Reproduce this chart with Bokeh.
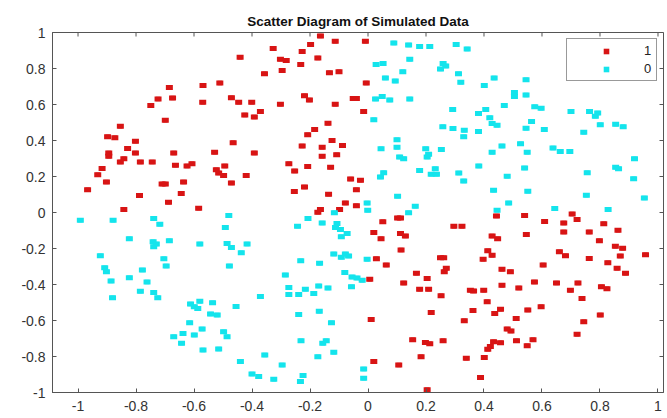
import math
from bokeh.plotting import figure
from bokeh.models import (Range1d, LinearAxis, FixedTicker, Legend, LegendItem,
                          ColumnDataSource)
from bokeh.embed import file_html
from bokeh.resources import INLINE

# ---------------- data ----------------
class1_x = [-0.685, -0.569, -0.724, -0.674, -0.749, -0.570, -0.699, -0.854, -0.898, -0.873,
            -0.802, -0.829, -0.164, -0.113, -0.009, -0.198, -0.327, -0.227, -0.441, -0.302,
            -0.282, -0.173, -0.232, -0.296, -0.357, -0.133, -0.100, -0.006, -0.511, -0.471,
            -0.446, -0.401, -0.302, -0.219, -0.202, -0.113, -0.051, -0.040, -0.015, -0.425,
            -0.392, -0.371, -0.138, -0.184, -0.208, -0.465, -0.124, -0.088, -0.227, -0.158,
            -0.894, -0.894, -0.802, -0.670, -0.842, -0.854, -0.785, -0.744, -0.664, -0.624,
            -0.607, -0.917, -0.932, -0.902, -0.710, -0.699, -0.636, -0.967, -0.788, -0.644,
            -0.688, -0.842, -0.584, -0.529, -0.392, -0.158, -0.108, -0.494, -0.523, -0.515,
            -0.498, -0.420, -0.471, -0.273, -0.253, -0.208, -0.129, -0.060, -0.026, -0.254,
            -0.219, -0.040, -0.136, -0.078, -0.040, -0.164, -0.173, -0.098, 0.443, 0.051,
            0.102, 0.112, 0.296, 0.324, 0.020, 0.045, 0.112, 0.129, 0.428, 0.447,
            0.114, 0.413, 0.428, 0.029, 0.397, 0.250, 0.261, 0.063, 0.270, 0.263,
            0.167, 0.462, 0.491, 0.540, 0.704, 0.721, 0.609, 0.675, 0.813, 0.546,
            0.675, 0.763, 0.862, 0.798, 0.853, 0.878, 0.660, 0.681, 0.870, 0.763,
            0.957, 0.604, 0.827, 0.859, 0.888, 0.006, 0.204, 0.123, 0.178, 0.209,
            0.252, 0.353, 0.364, 0.399, 0.462, 0.520, 0.411, 0.457, 0.437, 0.362,
            0.218, 0.011, 0.332, 0.511, 0.480, 0.493, 0.154, 0.198, 0.213, 0.259,
            0.433, 0.457, 0.422, 0.413, 0.512, 0.183, 0.339, 0.401, 0.020, 0.106,
            0.388, 0.204, 0.574, 0.650, 0.698, 0.724, 0.738, 0.805, 0.824, 0.597,
            0.551, 0.801, 0.744, 0.721, 0.569, 0.549]
class1_y = [0.695, 0.706, 0.631, 0.636, 0.595, 0.612, 0.512, 0.479, 0.421, 0.415,
            0.396, 0.356, 0.981, 0.952, 0.952, 0.933, 0.911, 0.894, 0.863, 0.852,
            0.845, 0.858, 0.822, 0.789, 0.771, 0.776, 0.782, 0.719, 0.719, 0.638,
            0.612, 0.612, 0.601, 0.649, 0.625, 0.601, 0.633, 0.633, 0.561, 0.542,
            0.531, 0.561, 0.496, 0.461, 0.432, 0.387, 0.400, 0.372, 0.369, 0.363,
            0.330, 0.312, 0.330, 0.330, 0.299, 0.280, 0.280, 0.280, 0.262, 0.258,
            0.271, 0.244, 0.210, 0.169, 0.158, 0.158, 0.169, 0.127, 0.094, 0.105,
            0.057, 0.017, 0.024, 0.335, 0.330, 0.313, 0.321, 0.258, 0.238, 0.219,
            0.206, 0.205, 0.164, 0.271, 0.230, 0.256, 0.252, 0.186, 0.179, 0.116,
            0.142, 0.127, 0.101, 0.053, 0.037, 0.017, 0.002, 0.017, -0.019, -0.052,
            -0.030, -0.030, -0.076, -0.076, -0.111, -0.146, -0.116, -0.131, -0.131, -0.146,
            -0.209, -0.213, -0.238, -0.257, -0.260, -0.251, -0.251, -0.292, -0.310, -0.329,
            -0.338, -0.315, -0.329, -0.017, -0.009, -0.039, -0.050, -0.058, -0.063, -0.122,
            -0.109, -0.109, -0.098, -0.157, -0.187, -0.198, -0.218, -0.240, -0.242, -0.255,
            -0.235, -0.292, -0.279, -0.310, -0.338, -0.371, -0.367, -0.391, -0.426, -0.426,
            -0.463, -0.432, -0.436, -0.432, -0.404, -0.419, -0.496, -0.537, -0.561, -0.545,
            -0.556, -0.594, -0.602, -0.589, -0.647, -0.659, -0.707, -0.722, -0.729, -0.712,
            -0.718, -0.723, -0.745, -0.760, -0.712, -0.801, -0.810, -0.806, -0.828, -0.847,
            -0.917, -0.985, -0.386, -0.391, -0.432, -0.391, -0.478, -0.413, -0.423, -0.524,
            -0.542, -0.570, -0.607, -0.677, -0.707, -0.740]

class0_x = [0.089, 0.140, 0.178, 0.213, 0.304, 0.342, 0.144, 0.028, 0.052, 0.259,
            0.268, 0.250, 0.120, 0.312, 0.060, 0.094, 0.320, 0.435, 0.401, 0.505,
            0.505, 0.026, 0.049, 0.075, 0.144, 0.470, 0.292, 0.406, 0.381, 0.420,
            0.020, 0.428, 0.445, 0.258, 0.293, 0.332, 0.330, 0.381, 0.100, 0.100,
            0.045, 0.199, 0.253, 0.462, 0.526, 0.545, 0.545, 0.575, 0.597, 0.700,
            0.764, 0.792, 0.784, 0.564, 0.801, 0.854, 0.880, 0.545, 0.608, 0.744,
            0.638, 0.663, 0.696, 0.549, 0.109, 0.123, 0.209, 0.204, 0.428, 0.382,
            0.178, 0.232, 0.218, 0.236, 0.313, 0.330, 0.054, 0.043, 0.480, 0.433,
            0.102, -0.003, -0.001, 0.163, 0.140, 0.485, 0.445, -0.003, 0.919, 0.540,
            0.854, 0.864, 0.756, 0.916, 0.551, 0.753, 0.953, 0.644, 0.828, -0.992,
            -0.879, -0.739, -0.718, -0.823, -0.741, -0.730, -0.739, -0.685, -0.580, -0.923,
            -0.704, -0.696, -0.908, -0.902, -0.778, -0.886, -0.823, -0.762, -0.785, -0.739,
            -0.725, -0.881, -0.612, -0.599, -0.580, -0.587, -0.615, -0.572, -0.638, -0.599,
            -0.670, -0.643, -0.569, -0.480, -0.492, -0.207, -0.158, -0.116, -0.243, -0.107,
            -0.112, -0.095, -0.072, -0.092, -0.486, -0.471, -0.417, -0.437, -0.478, -0.232,
            -0.167, -0.118, -0.092, -0.067, -0.078, -0.080, -0.285, -0.055, -0.038, -0.020,
            -0.057, -0.273, -0.273, -0.239, -0.216, -0.187, -0.170, -0.138, -0.371, -0.536,
            -0.455, -0.543, -0.520, -0.239, -0.168, -0.126, -0.498, -0.486, -0.231, -0.156,
            -0.144, -0.515, -0.118, -0.356, -0.173, -0.440, -0.296, -0.400, -0.377, -0.325,
            -0.224, -0.233, -0.015, -0.015]
class0_y = [0.941, 0.930, 0.922, 0.922, 0.933, 0.909, 0.852, 0.822, 0.828, 0.828,
            0.814, 0.797, 0.782, 0.771, 0.747, 0.730, 0.723, 0.747, 0.706, 0.666,
            0.644, 0.631, 0.644, 0.625, 0.631, 0.594, 0.572, 0.572, 0.550, 0.527,
            0.515, 0.494, 0.485, 0.476, 0.467, 0.457, 0.421, 0.450, 0.404, 0.363,
            0.354, 0.354, 0.350, 0.369, 0.382, 0.738, 0.653, 0.587, 0.579, 0.561,
            0.561, 0.553, 0.535, 0.505, 0.487, 0.490, 0.476, 0.468, 0.461, 0.446,
            0.358, 0.339, 0.339, 0.335, 0.308, 0.299, 0.323, 0.308, 0.335, 0.258,
            0.234, 0.243, 0.212, 0.212, 0.219, 0.175, 0.221, 0.197, 0.201, 0.123,
            0.090, 0.053, 0.013, 0.035, -0.002, 0.053, 0.013, -0.260, 0.299, 0.247,
            0.252, 0.243, 0.221, 0.188, 0.118, 0.096, 0.081, 0.022, 0.017, -0.043,
            -0.043, -0.033, -0.065, -0.146, -0.163, -0.175, -0.190, -0.157, -0.175, -0.240,
            -0.257, -0.297, -0.307, -0.329, -0.319, -0.380, -0.362, -0.386, -0.437, -0.445,
            -0.473, -0.473, -0.509, -0.524, -0.493, -0.533, -0.613, -0.647, -0.672, -0.681,
            -0.690, -0.727, -0.764, -0.017, -0.083, -0.033, -0.058, -0.002, -0.076, -0.061,
            -0.083, -0.094, -0.116, -0.135, -0.172, -0.194, -0.175, -0.224, -0.297, -0.268,
            -0.282, -0.231, -0.249, -0.242, -0.231, -0.334, -0.347, -0.358, -0.364, -0.376,
            -0.413, -0.417, -0.456, -0.456, -0.426, -0.450, -0.408, -0.419, -0.467, -0.502,
            -0.522, -0.564, -0.570, -0.567, -0.548, -0.613, -0.662, -0.690, -0.712, -0.727,
            -0.712, -0.758, -0.777, -0.791, -0.801, -0.828, -0.847, -0.897, -0.911, -0.926,
            -0.906, -0.939, -0.869, -0.921]

x_ticks = [-1.0, -0.8, -0.6, -0.4, -0.2, 0.0, 0.2, 0.4, 0.6, 0.8, 1.0]
x_tick_labels = ["-1", "-0.8", "-0.6", "-0.4", "-0.2", "0", "0.2", "0.4", "0.6", "0.8", "1"]
y_ticks = [-1.0, -0.8, -0.6, -0.4, -0.2, 0.0, 0.2, 0.4, 0.6, 0.8, 1.0]
y_tick_labels = ["-1", "-0.8", "-0.6", "-0.4", "-0.2", "0", "0.2", "0.4", "0.6", "0.8", "1"]
legend_labels = ["1", "0"]
title_text = "Scatter Diagram of Simulated Data"

# ---------------- styles ----------------
RED = "#d81414"
CYAN = "#14e4ec"
AXIS_COLOR = "#555555"
FONT = "Liberation Sans"
X_MIN, X_MAX = -1.088, 1.019
Y_MIN, Y_MAX = -1.0, 1.0

p = figure(width=666, height=416,
           x_range=Range1d(X_MIN, X_MAX), y_range=Range1d(Y_MIN, Y_MAX),
           x_axis_type=None, y_axis_type=None,
           output_backend="svg", toolbar_location=None,
           min_border_left=52, min_border_right=3,
           min_border_top=32, min_border_bottom=24)
p.background_fill_color = "white"
p.border_fill_color = "white"
p.outline_line_color = AXIS_COLOR
p.outline_line_width = 1

p.title.text = title_text
p.title.align = "center"
p.title.text_font = FONT
p.title.text_font_style = "bold"
p.title.text_font_size = "13.5px"
p.title.text_color = "#111111"
p.title.standoff = 7


def make_axis(ticks, labels, standoff):
    ax = LinearAxis(ticker=FixedTicker(ticks=ticks))
    ax.major_tick_in = 4
    ax.major_tick_out = 0
    ax.minor_tick_in = 0
    ax.minor_tick_out = 0
    ax.axis_line_color = AXIS_COLOR
    ax.major_tick_line_color = AXIS_COLOR
    ax.major_label_text_font = FONT
    ax.major_label_text_color = "#333333"
    ax.major_label_text_font_size = "14px"
    ax.major_label_overrides = dict(zip(ticks, labels))
    ax.major_label_standoff = standoff
    return ax


p.add_layout(make_axis(x_ticks, x_tick_labels, 8), "below")
p.add_layout(make_axis(y_ticks, y_tick_labels, 7), "left")

# tick marks on the top and right edges of the box (half of each dash is clipped)
p.scatter(x=x_ticks, y=[Y_MAX] * len(x_ticks), marker="dash", angle=math.pi / 2,
          size=8, line_color=AXIS_COLOR, line_width=1)
p.scatter(x=[X_MAX] * len(y_ticks), y=y_ticks, marker="dash",
          size=8, line_color=AXIS_COLOR, line_width=1)

src1 = ColumnDataSource(dict(x=class1_x, y=class1_y))
src0 = ColumnDataSource(dict(x=class0_x, y=class0_y))

# small square underneath (used for the legend key), rectangle on top
key1 = p.scatter("x", "y", source=src1, marker="square", size=4.5,
                 fill_color=RED, line_color=None)
key0 = p.scatter("x", "y", source=src0, marker="square", size=4.5,
                 fill_color=CYAN, line_color=None)
p.rect("x", "y", width=7, height=5, width_units="screen", height_units="screen",
       fill_color=RED, line_color=None, source=src1)
p.rect("x", "y", width=7, height=5, width_units="screen", height_units="screen",
       fill_color=CYAN, line_color=None, source=src0)

legend = Legend(items=[LegendItem(label=legend_labels[0], renderers=[key1]),
                       LegendItem(label=legend_labels[1], renderers=[key0])],
                location="top_right")
legend.margin = 6
legend.padding = 4
legend.spacing = 3
legend.glyph_width = 70
legend.glyph_height = 14
legend.label_height = 14
legend.label_width = 8
legend.label_standoff = 3
legend.label_text_font = FONT
legend.label_text_font_size = "13px"
legend.label_text_color = "#222222"
legend.border_line_color = "#333333"
legend.border_line_width = 1
legend.background_fill_color = "white"
legend.background_fill_alpha = 1.0
p.add_layout(legend)

open("out.html", "w").write(file_html(p, INLINE))
